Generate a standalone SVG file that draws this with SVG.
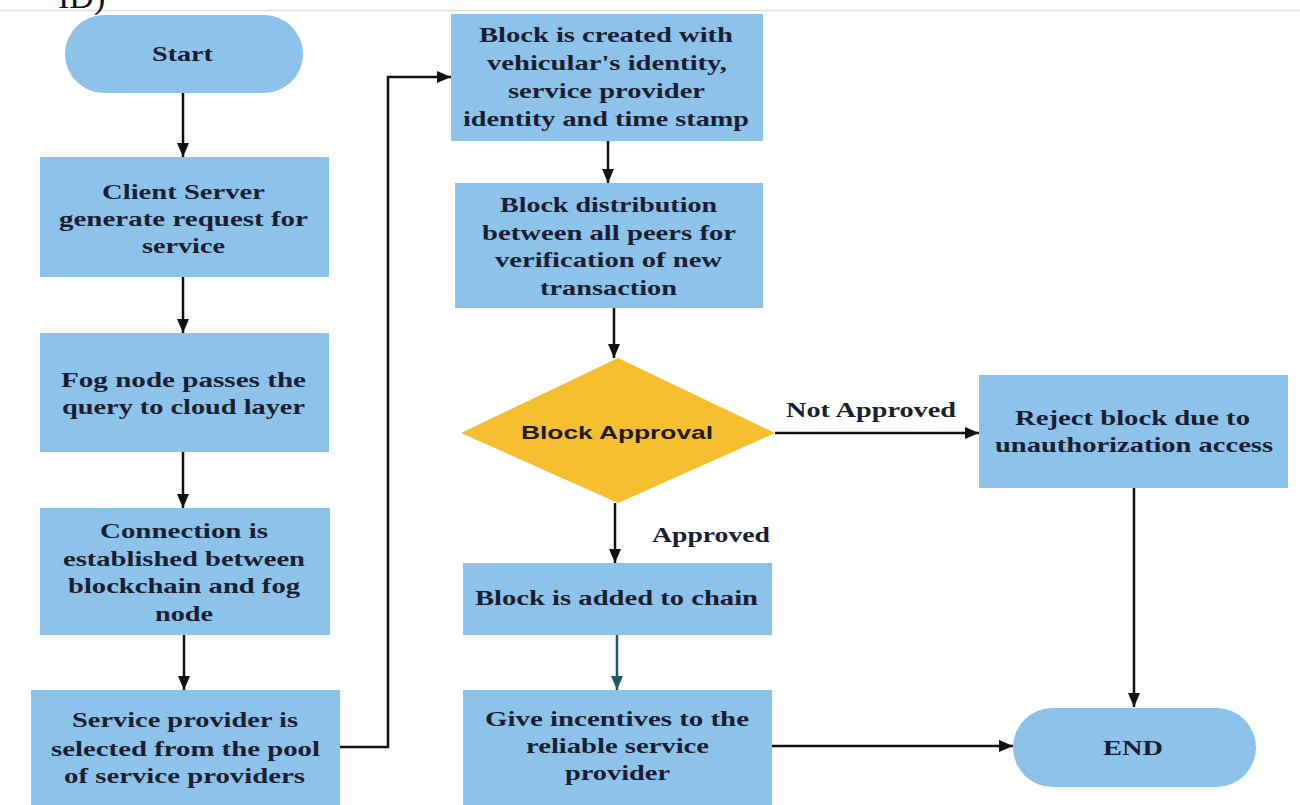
<svg xmlns="http://www.w3.org/2000/svg" width="1300" height="805" viewBox="0 0 1300 805">
<style>
.box{fill:#8DC3EA;}
.dia{fill:#F5BF2F;}
.t{font-family:"Liberation Serif","Times New Roman",serif;font-weight:bold;font-size:21px;fill:#1b1e30;text-anchor:middle;}
.ts{font-family:"Liberation Sans",Arial,sans-serif;font-weight:bold;font-size:19px;fill:#1b1b1b;text-anchor:middle;}
.lbl{font-family:"Liberation Serif","Times New Roman",serif;font-weight:bold;font-size:21px;fill:#1b1e30;text-anchor:middle;}
.c{fill:none;stroke:#111;stroke-width:2.5;}
.ct{fill:none;stroke:#1f5866;stroke-width:2.5;}
</style>
<defs>
<marker id="ah" markerUnits="userSpaceOnUse" markerWidth="14" markerHeight="12" refX="14" refY="6" orient="auto">
<path d="M0,0 L14,6 L0,12 z" fill="#111"/>
</marker>
<marker id="aht" markerUnits="userSpaceOnUse" markerWidth="14" markerHeight="12" refX="14" refY="6" orient="auto">
<path d="M0,0 L14,6 L0,12 z" fill="#1f5866"/>
</marker>
</defs>
<rect width="1300" height="805" fill="#ffffff"/>
<line x1="0" y1="10.5" x2="1300" y2="10.5" stroke="#e4e0dc" stroke-width="1.5"/>
<text x="58" y="8" font-family="Liberation Serif,serif" font-size="34" fill="#111">ID)</text>

<g id="connectors">
<line class="c" x1="183" y1="93" x2="183" y2="157" marker-end="url(#ah)"/>
<line class="c" x1="183" y1="277" x2="183" y2="333" marker-end="url(#ah)"/>
<line class="c" x1="183" y1="452" x2="183" y2="508" marker-end="url(#ah)"/>
<line class="c" x1="184" y1="635" x2="184" y2="690" marker-end="url(#ah)"/>
<polyline class="c" points="340,747 388,747 388,77 451,77" marker-end="url(#ah)"/>
<line class="c" x1="608" y1="141" x2="608" y2="183" marker-end="url(#ah)"/>
<line class="c" x1="614" y1="308" x2="614" y2="358" marker-end="url(#ah)"/>
<line class="c" x1="615" y1="503" x2="615" y2="563" marker-end="url(#ah)"/>
<line class="c" x1="775" y1="433" x2="979" y2="433" marker-end="url(#ah)"/>
<line class="ct" x1="617" y1="635" x2="617" y2="690" marker-end="url(#aht)"/>
<line class="c" x1="1134" y1="488" x2="1134" y2="707" marker-end="url(#ah)"/>
<line class="c" x1="772" y1="746" x2="1013" y2="746" marker-end="url(#ah)"/>
<text class="lbl" x="871" y="417" textLength="170" lengthAdjust="spacingAndGlyphs">Not Approved</text>
<text class="lbl" x="711" y="542" textLength="118" lengthAdjust="spacingAndGlyphs">Approved</text>
</g>

<g id="start">
<rect class="box" x="65" y="15" width="238" height="78" rx="39"/>
<text class="t" x="182.5" y="61" textLength="61" lengthAdjust="spacingAndGlyphs">Start</text>
</g>

<g id="client">
<rect class="box" x="40" y="157" width="289" height="120"/>
<text class="t" x="183.5" y="199" textLength="163" lengthAdjust="spacingAndGlyphs">Client Server</text>
<text class="t" x="183.5" y="226" textLength="249" lengthAdjust="spacingAndGlyphs">generate request for</text>
<text class="t" x="183.5" y="253" textLength="83" lengthAdjust="spacingAndGlyphs">service</text>
</g>

<g id="fog">
<rect class="box" x="40" y="333" width="289" height="119"/>
<text class="t" x="183.5" y="387" textLength="245" lengthAdjust="spacingAndGlyphs">Fog node passes the</text>
<text class="t" x="183.5" y="414" textLength="243" lengthAdjust="spacingAndGlyphs">query to cloud layer</text>
</g>

<g id="connection">
<rect class="box" x="40" y="508" width="290" height="127"/>
<text class="t" x="184" y="538" textLength="168" lengthAdjust="spacingAndGlyphs">Connection is</text>
<text class="t" x="184" y="566" textLength="242" lengthAdjust="spacingAndGlyphs">established between</text>
<text class="t" x="184" y="593" textLength="232" lengthAdjust="spacingAndGlyphs">blockchain and fog</text>
<text class="t" x="184" y="621" textLength="58" lengthAdjust="spacingAndGlyphs">node</text>
</g>

<g id="provider">
<rect class="box" x="31" y="690" width="309" height="115"/>
<text class="t" x="185" y="727" textLength="226" lengthAdjust="spacingAndGlyphs">Service provider is</text>
<text class="t" x="185.5" y="756" textLength="269" lengthAdjust="spacingAndGlyphs">selected from the pool</text>
<text class="t" x="184.5" y="783" textLength="241" lengthAdjust="spacingAndGlyphs">of service providers</text>
</g>

<g id="created">
<rect class="box" x="451" y="14" width="312" height="127"/>
<text class="t" x="606" y="42" textLength="254" lengthAdjust="spacingAndGlyphs">Block is created with</text>
<text class="t" x="607" y="70" textLength="240" lengthAdjust="spacingAndGlyphs">vehicular's identity,</text>
<text class="t" x="606.5" y="98" textLength="197" lengthAdjust="spacingAndGlyphs">service provider</text>
<text class="t" x="606" y="126" textLength="286" lengthAdjust="spacingAndGlyphs">identity and time stamp</text>
</g>

<g id="distribution">
<rect class="box" x="455" y="183" width="308" height="125"/>
<text class="t" x="608.5" y="212" textLength="217" lengthAdjust="spacingAndGlyphs">Block distribution</text>
<text class="t" x="609" y="240" textLength="254" lengthAdjust="spacingAndGlyphs">between all peers for</text>
<text class="t" x="608.5" y="267" textLength="227" lengthAdjust="spacingAndGlyphs">verification of new</text>
<text class="t" x="608.5" y="295" textLength="137" lengthAdjust="spacingAndGlyphs">transaction</text>
</g>

<g id="approval">
<polygon class="dia" points="618,358 775,433 618,503 461,433"/>
<text class="ts" x="617" y="439" textLength="192" lengthAdjust="spacingAndGlyphs">Block Approval</text>
</g>

<g id="reject">
<rect class="box" x="979" y="375" width="309" height="113"/>
<text class="t" x="1132.5" y="425" textLength="235" lengthAdjust="spacingAndGlyphs">Reject block due to</text>
<text class="t" x="1134" y="452" textLength="278" lengthAdjust="spacingAndGlyphs">unauthorization access</text>
</g>

<g id="added">
<rect class="box" x="463" y="563" width="309" height="72"/>
<text class="t" x="616.5" y="605" textLength="283" lengthAdjust="spacingAndGlyphs">Block is added to chain</text>
</g>

<g id="incentives">
<rect class="box" x="463" y="690" width="309" height="115"/>
<text class="t" x="617" y="726" textLength="264" lengthAdjust="spacingAndGlyphs">Give incentives to the</text>
<text class="t" x="617.5" y="753" textLength="183" lengthAdjust="spacingAndGlyphs">reliable service</text>
<text class="t" x="617.5" y="780" textLength="105" lengthAdjust="spacingAndGlyphs">provider</text>
</g>

<g id="end">
<rect class="box" x="1013" y="708" width="243" height="79" rx="39.5"/>
<text class="t" x="1133" y="755" textLength="60" lengthAdjust="spacingAndGlyphs">END</text>
</g>
</svg>
